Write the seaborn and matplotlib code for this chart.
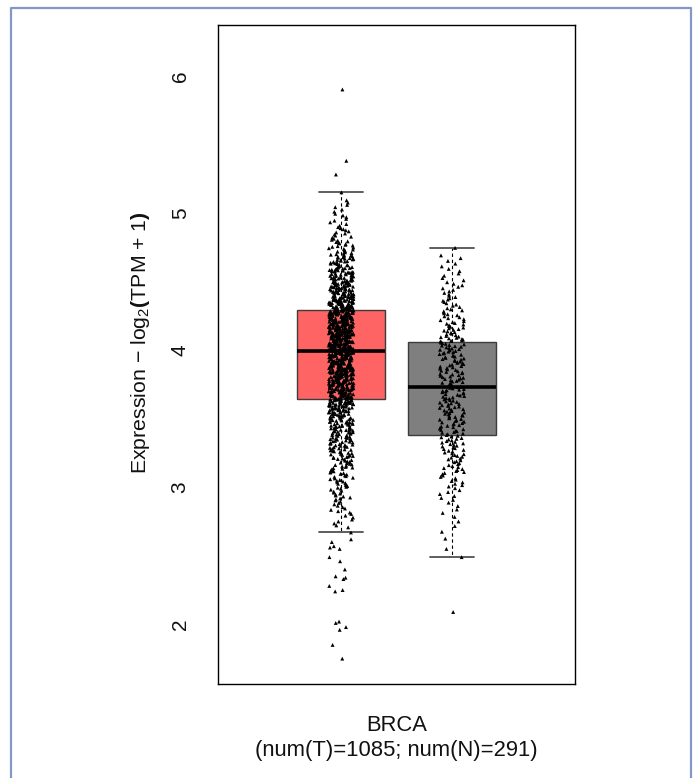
import numpy as np
import pandas as pd
import matplotlib
matplotlib.use("Agg")
import matplotlib.pyplot as plt
import seaborn as sns

cancer = "BRCA"
groups = ["Tumor", "Normal"]
n_tumor = 1085
n_normal = 291

tumor_bin_start = [2.7, 2.8, 2.9, 3.0, 3.1, 3.2, 3.3, 3.4, 3.5, 3.6, 3.7, 3.8,
                   3.9, 4.0, 4.1, 4.2, 4.3, 4.4, 4.5, 4.6, 4.7, 4.8, 4.9, 5.0]
tumor_bin_count = [7, 10, 14, 18, 22, 27, 33, 40, 50, 70, 75, 80,
                   82, 90, 92, 90, 76, 60, 45, 32, 20, 13, 8, 6]
# single points read individually (tails, whisker ends, outliers)
tumor_single = [5.90, 5.38, 5.28, 5.15, 2.67, 2.62, 2.60, 2.57, 2.56, 2.55,
                2.49, 2.46, 2.40, 2.35, 2.34, 2.33, 2.28, 2.25, 2.24, 2.02,
                2.01, 1.98, 1.96, 1.85, 1.75]

normal_bin_start = [2.5, 2.6, 2.7, 2.8, 2.9, 3.0, 3.1, 3.2, 3.3, 3.4, 3.5,
                    3.6, 3.7, 3.8, 3.9, 4.0, 4.1, 4.2, 4.3, 4.4, 4.5, 4.6]
normal_bin_count = [1, 2, 3, 4, 7, 10, 14, 16, 18, 20, 21,
                    21, 22, 21, 22, 23, 18, 14, 11, 9, 6, 5]
normal_single = [4.745, 2.49, 2.09]

box_colors = {"Tumor": "#FF6464", "Normal": "#7F7F7F"}
dot_colors = {"Tumor": "black", "Normal": "black"}


def expand_bins(starts, counts, singles, step=0.1):
    vals = list(singles)
    for lo, n in zip(starts, counts):
        vals.extend(lo + (np.arange(n) + 0.5) / n * step)
    return np.array(vals)


tumor_vals = expand_bins(tumor_bin_start, tumor_bin_count, tumor_single)
normal_vals = expand_bins(normal_bin_start, normal_bin_count, normal_single)

df = pd.DataFrame({
    "cancer": cancer,
    "group": ["Tumor"] * len(tumor_vals) + ["Normal"] * len(normal_vals),
    "expr": np.concatenate([tumor_vals, normal_vals]),
})

sns.set_style("white")
plt.rcParams["font.family"] = ["Liberation Sans", "DejaVu Sans"]
plt.rcParams["mathtext.fontset"] = "custom"
plt.rcParams["mathtext.rm"] = "Liberation Sans"
plt.rcParams["mathtext.bf"] = "Liberation Sans:bold"

W, H = 696, 778
fig = plt.figure(figsize=(W / 100, H / 100), dpi=100)
ax = fig.add_axes([218 / W, 1 - 684 / H, 357 / W, 659 / H])

sns.boxplot(
    data=df, x="cancer", y="expr", hue="group", hue_order=groups,
    palette=box_colors, saturation=1, width=0.8, gap=0.2, whis=1.5,
    showfliers=False, linewidth=1.0, linecolor="#3c3c3c",
    medianprops=dict(color="black", linewidth=2.6),
    whiskerprops=dict(color="black", linestyle=(0, (3, 2.5)), linewidth=0.8),
    capprops=dict(color="#505050", linewidth=1.3),
    legend=False, ax=ax,
)

np.random.seed(3)
sns.stripplot(
    data=df, x="cancer", y="expr", hue="group", hue_order=groups,
    palette=dot_colors, dodge=True, jitter=0.09, size=2.8, marker="^",
    linewidth=0, legend=False, zorder=3, ax=ax,
)

ax.set_xlim(-0.645, 0.645)
ax.set_ylim(1.565, 6.37)
ax.set_yticks([2, 3, 4, 5, 6])
ax.set_yticklabels(["2", "3", "4", "5", "6"], rotation=90, va="center")
ax.set_xticks([0])
ax.set_xticklabels([f"{cancer}\n(num(T)={n_tumor}; num(N)={n_normal})"],
                   linespacing=1.25, fontsize=15.8)
ax.tick_params(axis="both", direction="out", length=9.4, width=0.9,
               color="black", labelcolor="#111111")
ax.tick_params(axis="y", pad=11, labelsize=15)
ax.tick_params(axis="x", pad=13)

ax.set_xlabel("")
ax.set_ylabel(r"Expression $-$ log$_2$$\mathbf{(}$TPM + 1$\mathbf{)}$",
              fontsize=15.3, color="#111111")
ax.yaxis.set_label_coords(-0.185, 0.518)

for s in ax.spines.values():
    s.set_visible(True)
    s.set_color("black")
    s.set_linewidth(1.0)

# light frame around the panel (open at the bottom)
fig.add_artist(plt.Line2D([11 / W, 11 / W, 690.5 / W, 690.5 / W],
                          [0, 1 - 7.5 / H, 1 - 7.5 / H, 0],
                          transform=fig.transFigure, color="#8397C9", lw=1.6))

fig.savefig("out.png", dpi=100)
plt.close(fig)
